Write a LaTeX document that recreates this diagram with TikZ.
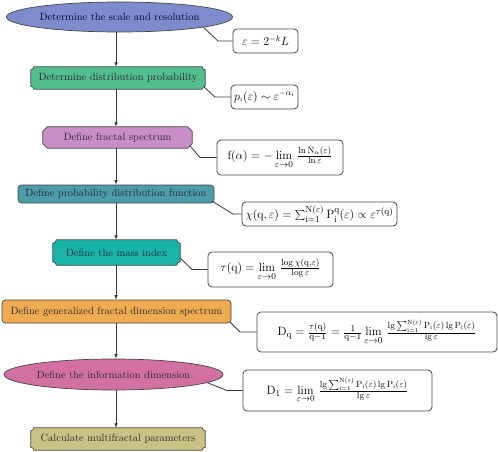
\documentclass[tikz,border=0pt]{standalone}
\usetikzlibrary{calc,backgrounds,arrows.meta,shapes.geometric}
\definecolor{cBlue}{RGB}{126,139,204}
\definecolor{cGreen}{RGB}{82,190,140}
\definecolor{cPurple}{RGB}{200,142,200}
\definecolor{cTealA}{RGB}{76,156,170}
\definecolor{cTealB}{RGB}{24,180,170}
\definecolor{cOrange}{RGB}{240,170,80}
\definecolor{cPink}{RGB}{210,112,162}
\definecolor{cOlive}{RGB}{200,195,132}
\definecolor{edge}{RGB}{70,70,70}
\definecolor{linec}{RGB}{55,55,55}
\definecolor{txt}{RGB}{40,40,50}
\newcommand\concavepath[3]{% node, fill, radius
  \filldraw[fill=#2,draw=edge,line width=0.7pt]
    ($(#1.north west)+(#3,0pt)$) -- ($(#1.north east)+(-#3,0pt)$)
    arc[start angle=180,end angle=270,radius=#3]
    -- ($(#1.south east)+(0pt,#3)$)
    arc[start angle=90,end angle=180,radius=#3]
    -- ($(#1.south west)+(#3,0pt)$)
    arc[start angle=0,end angle=90,radius=#3]
    -- ($(#1.north west)+(0pt,-#3)$)
    arc[start angle=270,end angle=360,radius=#3] -- cycle;}
\newcommand\chamferpath[3]{% node, fill, size
  \filldraw[fill=#2,draw=edge,line width=0.7pt]
    ($(#1.north west)+(#3,0pt)$) -- ($(#1.north east)+(-#3,0pt)$)
    -- ($(#1.north east)+(0pt,-#3)$) -- ($(#1.south east)+(0pt,#3)$)
    -- ($(#1.south east)+(-#3,0pt)$) -- ($(#1.south west)+(#3,0pt)$)
    -- ($(#1.south west)+(0pt,#3)$) -- ($(#1.north west)+(0pt,-#3)$) -- cycle;}
\begin{document}
\begin{tikzpicture}[x=1pt,y=-1pt,
  flow/.style={inner sep=0pt,text=txt,font=\fontsize{10.5}{12}\selectfont},
  ell/.style={flow,ellipse,draw=edge,line width=0.7pt},
  rbox/.style={flow,draw=edge,line width=0.7pt,rounded corners=3.5pt},
  fbox/.style={draw=edge,line width=0.8pt,rounded corners=4pt,fill=white,inner sep=0pt,font=\fontsize{12}{14}\selectfont},
  fboxL/.style={fbox,font=\fontsize{13}{15}\selectfont},
  arr/.style={draw=linec,line width=0.8pt,-{Latex[length=4.5pt,width=3.6pt]}},
  conn/.style={draw=linec,line width=0.8pt}]
\useasboundingbox (0,0) rectangle (498,452);

% main flow nodes
\node[ell,fill=cBlue,text=black!70!blue!60!black,minimum width=221pt,minimum height=30pt] (n1) at (119.5,17) {Determine the scale and resolution};
\node[flow,minimum width=174pt,minimum height=22pt] (n2) at (118,78) {Determine distribution probability};
\node[flow,minimum width=149pt,minimum height=21pt] (n3) at (117.5,137.5) {Define fractal spectrum};
\node[rbox,fill=cTealA,minimum width=196pt,minimum height=18pt] (n4) at (116,194) {Define probability distribution function};
\node[flow,minimum width=127pt,minimum height=25pt] (n5) at (116.5,252.5) {Define the mass index};
\node[rbox,fill=cOrange,minimum width=229pt,minimum height=23pt] (n6) at (116.5,311.5) {Define generalized fractal dimension spectrum};
\node[ell,fill=cPink,minimum width=219pt,minimum height=31pt] (n7) at (113.5,374.5) {Define the information dimension};
\node[flow,minimum width=174pt,minimum height=22pt] (n8) at (118,439) {Calculate multifractal parameters};

\begin{scope}[on background layer]
  \concavepath{n2}{cGreen}{3pt}
  \chamferpath{n3}{cPurple}{4.5pt}
  \concavepath{n5}{cTealB}{3.5pt}
  \concavepath{n8}{cOlive}{3pt}
\end{scope}

% formula boxes
\node[fbox,minimum width=65pt,minimum height=24pt] (f1) at (265.5,41) {$\varepsilon = 2^{-k}L$};
\node[fbox,minimum width=67pt,minimum height=24pt] (f2) at (264.5,97) {$p_{\scriptscriptstyle i}(\varepsilon) \sim \varepsilon^{-\alpha_i}$};
\node[fboxL,minimum width=126pt,minimum height=35pt] (f3) at (280,157.5) {$\mathrm{f}(\alpha) = -\lim\limits_{\varepsilon\to 0}\,\frac{\ln \mathrm{N}_{\alpha}(\varepsilon)}{\ln\varepsilon}$};
\node[fboxL,minimum width=155pt,minimum height=24pt] (f4) at (319.5,214) {$\chi(\mathrm{q},\varepsilon) = \sum_{\mathrm{i}=1}^{\mathrm{N}(\varepsilon)} \mathrm{P}_{\mathrm{i}}^{\mathrm{q}}(\varepsilon) \propto \varepsilon^{\tau(\mathrm{q})}$};
\node[fboxL,minimum width=125pt,minimum height=35pt] (f5) at (270.5,269.5) {$\tau(\mathrm{q}) = \lim\limits_{\varepsilon\to0}\,\frac{\log\chi(\mathrm{q},\varepsilon)}{\log\varepsilon}$};
\node[fboxL,minimum width=240pt,minimum height=40pt] (f6) at (377,332) {$\mathrm{D_q} = \frac{\tau(\mathrm{q})}{\mathrm{q}-1} = \frac{1}{\mathrm{q}-1}\lim\limits_{\varepsilon\to0}\,\frac{\lg\sum_{\mathrm{i}=1}^{\mathrm{N}(\varepsilon)}\mathrm{P_i}(\varepsilon)\lg\mathrm{P_i}(\varepsilon)}{\lg\varepsilon}$};
\node[fboxL,minimum width=189pt,minimum height=41pt] (f7) at (337.5,390.5) {$\mathrm{D_1} = \lim\limits_{\varepsilon\to0}\,\frac{\lg\sum_{\mathrm{i}=1}^{\mathrm{N}(\varepsilon)}\mathrm{P_i}(\varepsilon)\lg\mathrm{P_i}(\varepsilon)}{\lg\varepsilon}$};

% vertical arrows
\coordinate (ax) at (116,0);
\draw[arr] (n1.south -| ax) -- (n2.north -| ax);
\draw[arr] (n2.south -| ax) -- (n3.north -| ax);
\draw[arr] (n3.south -| ax) -- (n4.north -| ax);
\draw[arr] (n4.south -| ax) -- (n5.north -| ax);
\draw[arr] (n5.south -| ax) -- (n6.north -| ax);
\draw[arr] (n6.south -| ax) -- (n7.north -| ax);
\draw[arr] (n7.south -| ax) -- (n8.north -| ax);

% side connectors
\coordinate (e1) at (218,41);
\coordinate (e2) at (215,97);
\coordinate (e3) at (200,157.5);
\coordinate (e4) at (233,214);
\coordinate (e5) at (192,269.5);
\coordinate (e6) at (240,332);
\coordinate (e7) at (227,390.5);
\draw[conn] (n1.-7) -- (e1) -- (f1.west);
\draw[conn] ($(n2.south east)+(-1pt,2pt)$) -- (e2) -- (f2.west);
\draw[conn] ($(n3.south east)+(-2pt,2pt)$) -- (e3) -- (f3.west);
\draw[conn] ($(n4.south east)+(-2pt,2pt)$) -- (e4) -- (f4.west);
\draw[conn] ($(n5.east)+(0pt,-5.5pt)$) -- (e5) -- (f5.west);
\draw[conn] ($(n6.south east)+(-1pt,1pt)$) -- (e6) -- (f6.west);
\draw[conn] (n7.-5) -- (e7) -- (f7.west);
\end{tikzpicture}
\end{document}
